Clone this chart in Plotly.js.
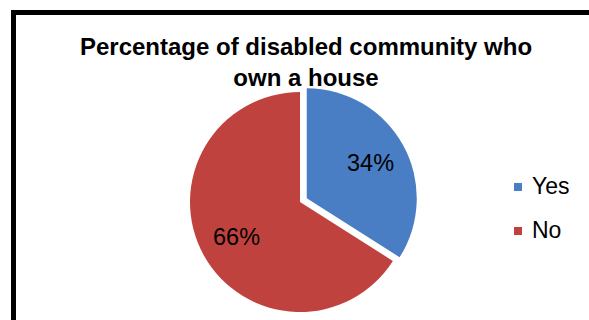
<!DOCTYPE html>
<html>
<head>
<meta charset="utf-8">
<script src="https://cdn.plot.ly/plotly-3.0.1.min.js"></script>
<style>
html,body{margin:0;padding:0;background:#fff;overflow:hidden;}
#chart{width:589px;height:320px;}
</style>
</head>
<body>
<div id="chart"></div>
<script>
// Data
var labels = ["Yes", "No"];
var values = [34, 66];
var colors = ["#4a7ec4", "#c0423f"];
var pulls = [0.07, 0];
var chartTitle = "Percentage of disabled community who<br>own a house";

var W = 589, H = 320;
function px(x){ return x / W; }
function py(y){ return 1 - y / H; }

// pie geometry (pixels)
var CX = 300, CY = 202, R = 110;
var maxPull = Math.max.apply(null, pulls);
var HALF = R * (1 + maxPull);
var FONT = "Liberation Sans, Arial, sans-serif";

var trace = {
  type: "pie",
  labels: labels,
  values: values,
  sort: false,
  direction: "clockwise",
  rotation: 0,
  pull: pulls,
  marker: { colors: colors, line: { width: 0 } },
  textinfo: "none",
  hoverinfo: "label+percent",
  showlegend: false,
  domain: { x: [px(CX - HALF), px(CX + HALF)], y: [py(CY + HALF), py(CY - HALF)] }
};

var shapes = [
  { type: "rect", xref: "paper", yref: "paper", x0: px(13.5), y0: py(12.5), x1: 1.1, y1: -0.1,
    line: { color: "#000", width: 5 }, fillcolor: "rgba(0,0,0,0)", layer: "above" }
];
var annotations = [];

// percentage labels, placed at each slice's mid-angle
var total = values.reduce(function(a, b){ return a + b; }, 0);
var cum = 0;
values.forEach(function(v, i){
  var mid = (cum + v / 2) / total * 2 * Math.PI;
  cum += v;
  var dx = Math.sin(mid), dy = -Math.cos(mid);
  var rr = R * (0.66 + pulls[i]);
  annotations.push({ xref: "paper", yref: "paper",
    x: px(CX + dx * rr), y: py(CY + dy * rr), xanchor: "center", yanchor: "middle",
    showarrow: false, text: Math.round(v / total * 100) + "%",
    font: { family: FONT, size: 23.5, color: "#000" } });
});

// legend
var legendY = [186, 230];
labels.forEach(function(lab, i){
  shapes.push({ type: "rect", xref: "paper", yref: "paper",
    x0: px(514), x1: px(522), y0: py(legendY[i] - 3), y1: py(legendY[i] + 5),
    fillcolor: colors[i], line: { width: 0 } });
  annotations.push({ xref: "paper", yref: "paper", x: px(530), y: py(legendY[i]),
    xanchor: "left", yanchor: "middle", showarrow: false, text: lab,
    font: { family: FONT, size: 23, color: "#000" } });
});

var layout = {
  width: W, height: H,
  margin: { l: 0, r: 0, t: 0, b: 0 },
  paper_bgcolor: "#fff",
  title: { text: chartTitle, x: px(306), xanchor: "center", xref: "paper",
    y: py(55), yanchor: "top", yref: "container",
    font: { family: FONT, size: 24, color: "#000", weight: "bold" } },
  shapes: shapes,
  annotations: annotations,
  showlegend: false
};

Plotly.newPlot("chart", [trace], layout, { displayModeBar: false, staticPlot: true });
</script>
</body>
</html>
